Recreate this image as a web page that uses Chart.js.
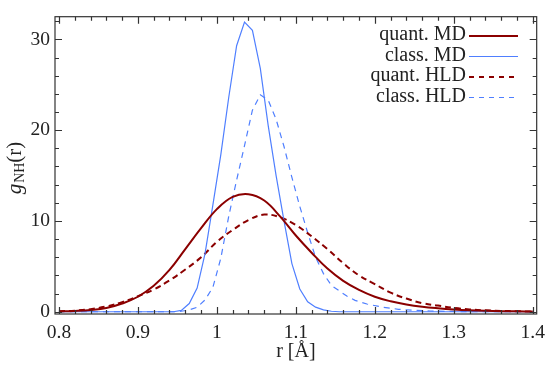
<!DOCTYPE html>
<html>
<head>
<meta charset="utf-8">
<script src="https://cdn.jsdelivr.net/npm/chart.js@4/dist/chart.umd.min.js"></script>
<style>
  html, body { margin: 0; padding: 0; background: #fff; }
  canvas { display: block; }
</style>
</head>
<body>
<canvas id="c" width="552" height="365"></canvas>
<script>
// ---- data ----
const seriesNames = ["quant. MD", "class. MD", "quant. HLD", "class. HLD"];

const quantMD_r = [0.80,0.82,0.84,0.86,0.88,0.90,0.92,0.94,0.96,0.98,1.00,1.02,1.04,1.06,1.08,1.10,1.12,1.14,1.16,1.18,1.20,1.22,1.24,1.26,1.28,1.30,1.32,1.34,1.36,1.38,1.40];
const quantMD_g = [0.03,0.08,0.18,0.40,0.90,1.65,2.85,4.6,6.9,9.2,11.3,12.65,12.95,12.25,10.5,8.4,6.5,4.75,3.4,2.4,1.65,1.15,0.8,0.55,0.38,0.25,0.16,0.10,0.06,0.04,0.02];

const classMD_r = [0.80,0.945,0.955,0.965,0.975,0.985,0.995,1.005,1.015,1.025,1.035,1.045,1.055,1.065,1.075,1.085,1.095,1.105,1.115,1.125,1.135,1.145,1.155,1.40];
const classMD_g = [0.0,0.0,0.15,0.9,2.6,6.4,11.8,17.3,23.6,29.3,31.9,31.0,26.8,20.5,15.0,10.0,5.3,2.5,1.1,0.5,0.2,0.05,0.0,0.0];

const quantHLD_r = [0.80,0.82,0.84,0.86,0.88,0.90,0.92,0.94,0.96,0.98,1.00,1.02,1.04,1.06,1.08,1.10,1.12,1.14,1.16,1.18,1.20,1.22,1.24,1.26,1.28,1.30,1.32,1.34,1.36,1.38,1.40];
const quantHLD_g = [0.05,0.12,0.28,0.58,1.05,1.7,2.45,3.45,4.65,6.0,7.7,9.0,10.1,10.7,10.4,9.55,8.3,6.9,5.35,4.0,3.05,2.1,1.45,0.95,0.68,0.42,0.25,0.15,0.09,0.05,0.03];

const classHLD_r = [0.80,0.945,0.955,0.965,0.975,0.985,0.995,1.005,1.015,1.025,1.035,1.045,1.055,1.065,1.075,1.085,1.095,1.105,1.115,1.125,1.135,1.145,1.155,1.165,1.175,1.19,1.21,1.23,1.25,1.27,1.30,1.33,1.40];
const classHLD_g = [0.0,0.0,0.05,0.2,0.5,1.3,2.7,5.9,10.5,14.5,18.3,22.2,23.9,23.3,21.2,18.2,14.8,11.6,8.7,6.0,4.2,2.9,2.3,1.7,1.25,0.85,0.5,0.27,0.15,0.08,0.03,0.0,0.0];

const xTickValues = [0.8, 0.9, 1.0, 1.1, 1.2, 1.3, 1.4];
const yTickValues = [0, 10, 20, 30];
const xMinorStep = 0.02;
const yMinorStep = 2;

const xLabel = "r [Å]";
const yLabelMain = "g";
const yLabelSub = "NH";
const yLabelTail = "(r)";

// ---- styles ----
const RED = "#8b0000";
const BLUE = "#4f7fff";
const FONT = "'Liberation Serif', 'DejaVu Serif', serif";
const TXT = "#222";

function pts(rs, gs) { return rs.map((r, i) => ({ x: r, y: gs[i] })); }

const styles = [
  { color: RED, width: 2, dash: [], smooth: true },
  { color: BLUE, width: 1.2, dash: [], smooth: false },
  { color: RED, width: 2, dash: [6, 4], smooth: true },
  { color: BLUE, width: 1.2, dash: [6, 5], smooth: false }
];
const seriesData = [
  pts(quantMD_r, quantMD_g),
  pts(classMD_r, classMD_g),
  pts(quantHLD_r, quantHLD_g),
  pts(classHLD_r, classHLD_g)
];

const datasets = seriesNames.map((name, i) => ({
  label: name,
  data: seriesData[i],
  borderColor: styles[i].color,
  borderWidth: styles[i].width,
  borderDash: styles[i].dash,
  pointRadius: 0,
  fill: false,
  tension: styles[i].smooth ? 0.4 : 0
}));

const deco = {
  id: 'deco',
  afterDraw(chart) {
    const { ctx, chartArea: { left, right, top, bottom }, scales: { x, y } } = chart;
    ctx.save();
    ctx.strokeStyle = "#333";
    ctx.lineWidth = 1.2;
    ctx.strokeRect(left, top, right - left, bottom - top);
    // x ticks (inward, top and bottom)
    const nX = Math.round((xTickValues[xTickValues.length - 1] - xTickValues[0]) / xMinorStep);
    ctx.beginPath();
    for (let i = 0; i <= nX; i++) {
      const v = xTickValues[0] + i * xMinorStep;
      if (v < x.min || v > x.max) continue;
      const px = Math.round(x.getPixelForValue(v)) + 0.5;
      const L = (i % 5 === 0) ? 7 : 4;
      ctx.moveTo(px, bottom); ctx.lineTo(px, bottom - L);
      ctx.moveTo(px, top); ctx.lineTo(px, top + L);
    }
    // y ticks (inward, left and right)
    for (let v = 0; v <= y.max; v += yMinorStep) {
      const py = Math.round(y.getPixelForValue(v)) + 0.5;
      const L = (v % 10 === 0) ? 7 : 4;
      ctx.moveTo(left, py); ctx.lineTo(left + L, py);
      ctx.moveTo(right, py); ctx.lineTo(right - L, py);
    }
    ctx.stroke();

    // y axis title with subscript
    ctx.fillStyle = TXT;
    ctx.textBaseline = 'alphabetic';
    const fMain = "italic 21px " + FONT;
    const fSub = "14px " + FONT;
    const fTail = "21px " + FONT;
    ctx.font = fMain; const w1 = ctx.measureText(yLabelMain).width;
    ctx.font = fSub; const w2 = ctx.measureText(yLabelSub).width;
    ctx.font = fTail; const w3 = ctx.measureText(yLabelTail).width;
    const total = w1 + w2 + w3 + 1;
    ctx.translate(21, 168);
    ctx.rotate(-Math.PI / 2);
    let cx = -total / 2;
    ctx.font = fMain; ctx.fillText(yLabelMain, cx, 0); cx += w1 + 1;
    ctx.font = fSub; ctx.fillText(yLabelSub, cx, 3); cx += w2;
    ctx.font = fTail; ctx.fillText(yLabelTail, cx, 0);
    ctx.restore();

    // legend
    ctx.save();
    ctx.font = "20px " + FONT;
    ctx.fillStyle = TXT;
    ctx.textAlign = 'right';
    ctx.textBaseline = 'middle';
    const rowY = [36, 56.5, 77, 97.5];
    const textRight = 466;
    seriesNames.forEach((name, i) => {
      ctx.fillText(name, textRight, rowY[i] - 1);
      ctx.beginPath();
      ctx.strokeStyle = styles[i].color;
      ctx.lineWidth = styles[i].width;
      ctx.setLineDash(styles[i].dash.length ? [5, 5] : []);
      ctx.moveTo(469, rowY[i]);
      ctx.lineTo(styles[i].dash.length ? 514 : 518, rowY[i]);
      ctx.stroke();
    });
    ctx.restore();
  }
};

Chart.defaults.font.family = FONT;
Chart.defaults.font.size = 20;
Chart.defaults.color = TXT;

new Chart(document.getElementById('c'), {
  type: 'line',
  data: { datasets },
  options: {
    responsive: false,
    animation: false,
    layout: { padding: { left: 0, right: 9, top: 12, bottom: 0 } },
    plugins: { legend: { display: false }, tooltip: { enabled: false } },
    scales: {
      x: {
        type: 'linear',
        min: 0.795, max: 1.405,
        grid: { display: false, drawTicks: false },
        border: { display: false },
        afterBuildTicks: (axis) => { axis.ticks = xTickValues.map(v => ({ value: v })); },
        afterFit: (axis) => { axis.height = 51; },
        ticks: {
          padding: 7,
          maxRotation: 0,
          autoSkip: false,
          font: { size: 19.5 },
          callback: (v) => String(Math.round(v * 10) / 10)
        },
        title: { display: true, text: xLabel, font: { size: 20 }, padding: { top: 0, bottom: 1 } }
      },
      y: {
        type: 'linear',
        min: -0.25, max: 32.5,
        grid: { display: false, drawTicks: false },
        border: { display: false },
        afterBuildTicks: (axis) => { axis.ticks = yTickValues.map(v => ({ value: v })); },
        afterFit: (axis) => { axis.width = 55; },
        ticks: { padding: 5, font: { size: 19.5 }, callback: (v) => String(v) }
      }
    }
  },
  plugins: [deco]
});
</script>
</body>
</html>
